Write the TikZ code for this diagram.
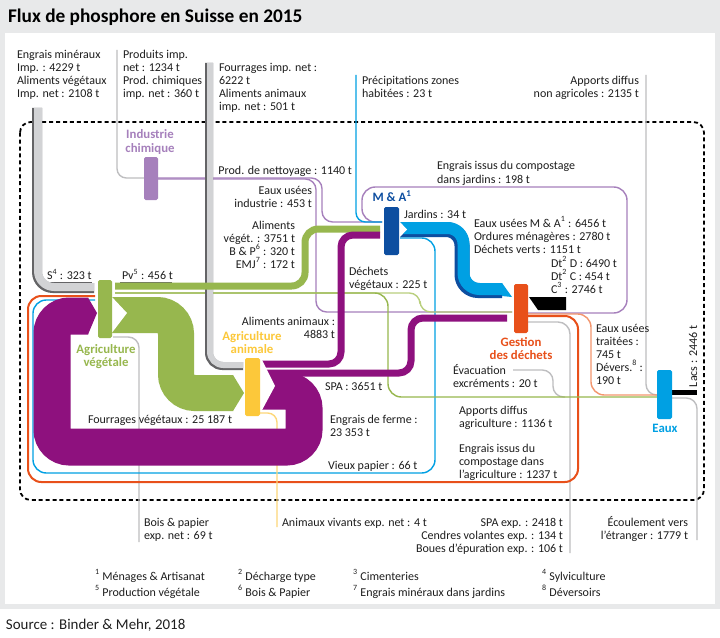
\documentclass[tikz,border=0pt]{standalone}
\usepackage{fontspec}
\setmainfont{Carlito}
\definecolor{bggray}{RGB}{232,233,234}
\definecolor{txtc}{RGB}{30,30,30}
\definecolor{purp}{RGB}{142,17,126}
\definecolor{grn}{RGB}{151,183,78}
\definecolor{lgrn}{RGB}{185,207,125}
\definecolor{yel}{RGB}{252,200,58}
\definecolor{lyel}{RGB}{253,215,120}
\definecolor{orng}{RGB}{232,80,26}
\definecolor{salm}{RGB}{243,150,110}
\definecolor{cyn}{RGB}{0,160,227}
\definecolor{dblue}{RGB}{13,78,160}
\definecolor{lav}{RGB}{166,128,188}
\definecolor{gline}{RGB}{190,190,192}
\definecolor{lgray}{RGB}{210,211,213}
\definecolor{dgray}{RGB}{100,100,102}
\newcommand{\mytxt}{\fontsize{9}{9.75}\selectfont}
\newcommand{\myfoot}{\fontsize{9}{12}\selectfont}
\newcommand{\mylab}{\fontsize{9.6}{9.75}\selectfont\bfseries}
\newcommand{\mytitle}{\fontsize{14.5}{16}\selectfont\bfseries}
\newcommand{\mysrc}{\fontsize{11.2}{13}\selectfont}
\newcommand{\su}[1]{\textsuperscript{#1}}
\begin{document}
\begin{tikzpicture}[x=0.75pt,y=-0.75pt,
  every node/.style={inner sep=0pt, outer sep=0pt, font=\mytxt, text=txtc},
  lt/.style={anchor=base west, align=left},
  rt/.style={anchor=base east, align=right},
  ct/.style={anchor=base, align=center},
  fl/.style={line width=#1*0.75pt, line cap=butt},
  thin/.style={line width=1.4*0.75pt},
  bar/.style={rounded corners=1.2pt}]
\useasboundingbox (0,0) rectangle (720,638);
% background
\fill[bggray] (0,0) rectangle (720,609);
\fill[white] (5,33) rectangle (715,604);
\node[anchor=base west, font=\mytitle, text=black] (title) at (8,23) {Flux de phosphore en Suisse en 2015};
% system boundary
\draw[black, line width=1.8*0.75pt, dash pattern=on 3pt off 2.2pt, rounded corners=8pt] (20,122) rectangle (704,500);

% ---------- thin lines ----------
\draw[gline, thin, rounded corners=7pt] (117,50) |- (144,178);
\draw[gline, thin, rounded corners=8pt] (646,75) |- (657,395);
\draw[gline, thin, rounded corners=8pt] (672,398) -| (697,540);
\draw[gline, thin, rounded corners=8pt] (113,337) -| (139,542);
\draw[gline, thin, rounded corners=9pt] (528,322) -| (570,553);
\draw[gline, thin, rounded corners=8pt] (513,370) -| (553,397) -- (565,397);
% lavender
\draw[lav, thin, rounded corners=8pt] (158,178) -| (322,222) -- (382,222);
\draw[lav, thin, rounded corners=8pt] (158,179) -| (316,312) -- (512,312);
\draw[lav, thin, rounded corners=10pt] (528,313) -| (627,187) -| (362,222) -- (382,222);
% cyan thin
\draw[cyn, thin, rounded corners=7pt] (356,75) |- (382,222);
\draw[cyn, thin, rounded corners=10pt] (400,238) -| (435,473) -| (33,300) -- (95,300);
% orange
\draw[orng, line width=2*0.75pt, rounded corners=10pt] (528,316) -| (578,482) -| (28,296) -- (95,296);
\draw[salm, thin, rounded corners=10pt] (528,314) -| (591,395) -- (657,395);
% green thin
\draw[lgrn, thin, rounded corners=8pt] (115,293) -| (420,312) -- (512,312);
\draw[grn, thin, rounded corners=10pt] (115,293) -| (388,397) -- (657,397);
% yellow
\draw[lyel, thin, rounded corners=7pt] (260,413) -| (277,527);
% underlines
\draw[dgray, thin] (47,283) -- (92,283);
\draw[dgray, thin] (120,283) -- (172,283);

% ---------- import bands ----------
\draw[dgray, fl=10, rounded corners=12pt] (37,108) |- (94,288);
\draw[lgray, fl=8, rounded corners=12pt] (38,108) |- (94,287);
\draw[dgray, fl=8, rounded corners=10pt] (209,63) |- (243,366);
\draw[lgray, fl=6, rounded corners=10pt] (210,63) |- (243,365);

% ---------- big flows ----------
\draw[purp, fl=37, rounded corners=13pt] (262,391) -- (304,391) -- (304,447) -- (52,447) -- (52,316) -- (88,316);
\fill[purp] (88,297.5) -- (97,313) -- (88,334.5) -- cycle;
\draw[grn, fl=36, rounded corners=14pt] (112,315) -- (176,315) -- (176,393) -- (233,393);
\fill[grn] (233,375) -- (244,393) -- (233,411) -- cycle;
\fill[white] (111,296) -- (127,313) -- (111,334) -- cycle;
\draw[grn, fl=7, rounded corners=10pt] (115,286) -| (305,229) -- (380,229);
\draw[purp, fl=7, rounded corners=9pt] (262,364) -| (341,235) -- (380,235);
\draw[purp, fl=7, rounded corners=9pt] (262,373) -| (411,318) -- (507,318);
\fill[white] (261,358) -- (275,386) -- (261,412) -- cycle;
% M&A to waste
\draw[dblue, fl=15, rounded corners=12pt] (400,229.5) -| (462,290.5) -- (502,290.5);
\draw[cyn, fl=12, rounded corners=12pt] (400,228) -| (463.5,289) -- (502,289);
\fill[cyn] (502,283) -- (512,297) -- (502,296) -- cycle;
\fill[white] (399,221) -- (407,229.5) -- (399,238) -- cycle;
% black flows
\fill[black] (529,297) -- (566,297) -- (566,310) -- (538,310) -- cycle;
\fill[black] (672,390) rectangle (697,395);

% ---------- process bars ----------
\fill[lav, bar] (144,157) rectangle (158,200);
\fill[dblue, bar] (384,207) rectangle (399,255);
\fill[orng, bar] (514,284) rectangle (528,333);
\fill[cyn, bar] (657,370) rectangle (672,419);
\fill[grn, bar] (98,280) rectangle (112,338);
\fill[yel, bar] (245,358) rectangle (260,416);

% ---------- process labels (base = last line) ----------
\node[ct, font=\mylab, text=lav] (lind) at (150,152) {Industrie\\chimique};
\node[ct, font=\mylab, text=dblue] (lma) at (392,201) {M \& A\su{1}};
\node[ct, font=\mylab, text=orng] (lgest) at (521,359) {Gestion\\des déchets};
\node[ct, font=\mylab, text=cyn] (leaux) at (665,432) {Eaux};
\node[ct, font=\mylab, text=grn] (lagv) at (106,366) {Agriculture\\végétale};
\node[ct, font=\mylab, text=yel] (laga) at (252,353) {Agriculture\\animale};

% ---------- flow labels (base = last line) ----------
\node[lt] (t1) at (17,98) {Engrais minéraux\\Imp. : 4229 t\\Aliments végétaux\\Imp. net : 2108 t};
\node[lt] (t2) at (123,98) {Produits imp.\\net : 1234 t\\Prod. chimiques\\imp. net : 360 t};
\node[lt] (t3) at (219,111) {Fourrages imp. net :\\6222 t\\Aliments animaux\\imp. net : 501 t};
\node[lt] (t4) at (362,98) {Précipitations zones\\habitées : 23 t};
\node[rt] (t5) at (639,98) {Apports diffus\\non agricoles : 2135 t};
\node[rt] (t6) at (352,174) {Prod. de nettoyage : 1140 t};
\node[rt] (t7) at (312,207) {Eaux usées\\industrie : 453 t};
\node[rt] (t8) at (295,268) {Aliments\\végét. : 3751 t\\B \& P\su{6} : 320 t\\EMJ\su{7} : 172 t};
\node[lt] (t9) at (47,279.5) {S\su{4} : 323 t};
\node[lt] (t10) at (122,279.5) {Pv\su{5} : 456 t};
\node[lt] (t11) at (437,183) {Engrais issus du compostage\\dans jardins : 198 t};
\node[lt] (t12) at (404,218) {Jardins : 34 t};
\node[lt] (t13) at (474,253) {Eaux usées M \& A\su{1} : 6456 t\\Ordures ménagères : 2780 t\\Déchets verts : 1151 t};
\node[lt] (t14) at (551,293) {Dt\su{2} D : 6490 t\\Dt\su{2} C : 454 t\\C\su{3} : 2746 t};
\node[lt] (t15) at (349,288) {Déchets\\végétaux : 225 t};
\node[rt] (t16) at (335,338) {Aliments animaux :\\4883 t};
\node[lt] (t17) at (325,390) {SPA : 3651 t};
\node[lt] (t18) at (596,384) {Eaux usées\\traitées :\\745 t\\Dévers.\su{8} :\\190 t};
\node[lt] (t19) at (453,387) {Évacuation\\excréments : 20 t};
\node[lt] (t20) at (88,423) {Fourrages végétaux : 25 187 t};
\node[lt] (t21) at (330,436) {Engrais de ferme :\\23 353 t};
\node[lt] (t22) at (459,427) {Apports diffus\\agriculture : 1136 t};
\node[lt] (t23) at (459,478) {Engrais issus du\\compostage dans\\l’agriculture : 1237 t};
\node[lt] (t24) at (328,469) {Vieux papier : 66 t};
\node[anchor=base west, rotate=90] (t25) at (697,387) {Lacs : 2446 t};
\node[lt] (t26) at (144,539) {Bois \& papier\\exp. net : 69 t};
\node[lt] (t27) at (282,526) {Animaux vivants exp. net : 4 t};
\node[rt] (t28) at (563,552) {SPA exp. : 2418 t\\Cendres volantes exp. : 134 t\\Boues d’épuration exp. : 106 t};
\node[rt] (t29) at (688,539) {Écoulement vers\\l’étranger : 1779 t};

% ---------- footnotes ----------
\node[lt, font=\myfoot] (f1) at (95,596) {\su{1} Ménages \& Artisanat\\\su{5} Production végétale};
\node[lt, font=\myfoot] (f2) at (238,596) {\su{2} Décharge type\\\su{6} Bois \& Papier};
\node[lt, font=\myfoot] (f3) at (353,596) {\su{3} Cimenteries\\\su{7} Engrais minéraux dans jardins};
\node[lt, font=\myfoot] (f4) at (542,596) {\su{4} Sylviculture\\\su{8} Déversoirs};
\node[anchor=base west, font=\mysrc] (src) at (6,629) {Source : Binder \& Mehr, 2018};
\end{tikzpicture}
\end{document}
